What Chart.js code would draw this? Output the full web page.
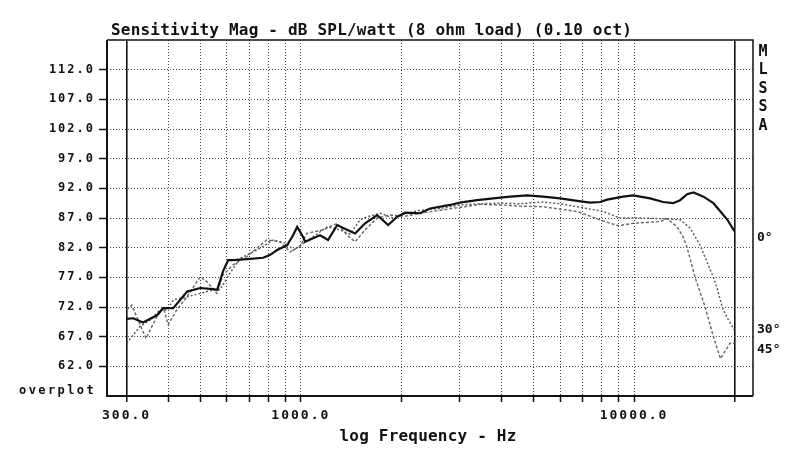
<!DOCTYPE html>
<html><head><meta charset="utf-8">
<script src="https://cdn.jsdelivr.net/npm/chart.js@4.4.1/dist/chart.umd.min.js"></script>
<style>html,body{margin:0;padding:0;background:#fff;}canvas{display:block;}</style>
</head><body>
<canvas id="c" width="800" height="454"></canvas>
<script>
// ---- data ----
const freq0 = [300,314,336,370,386,414,456,499,545,561,584,605,626,704,771,809,849,909,948,975,1016,1030,1088,1142,1207,1285,1376,1455,1559,1694,1828,1945,2056,2280,2443,2806,3000,3381,3777,4248,4777,5335,6000,6750,7383,7910,8304,9275,9937,11176,12226,13099,13750,14431,15073,16151,17306,18163,19064,20000];
const spl0 = [70.0,70.1,69.4,70.6,71.8,71.8,74.6,75.2,75.0,74.9,78.0,79.9,79.9,80.1,80.3,80.8,81.6,82.4,84.1,85.5,83.8,83.0,83.6,84.1,83.3,85.8,85.0,84.4,86.1,87.5,85.8,87.2,87.9,87.8,88.6,89.2,89.6,90.0,90.3,90.6,90.8,90.6,90.3,89.9,89.6,89.7,90.1,90.6,90.8,90.3,89.7,89.5,90.0,91.0,91.3,90.6,89.5,88.1,86.7,84.8];

const freq30 = [300,329,353,378,396,415,455,499,547,572,613,657,738,827,908,950,1018,1199,1312,1406,1506,1581,1730,1892,2084,2280,2618,3000,3452,3964,4550,5335,6000,6750,7383,8077,9084,10429,11975,13750,14737,15788,16573,17306,17757,18380,19027,20000];
const spl30 = [65.9,68.7,69.8,71.5,71.5,73.2,73.7,74.3,74.9,74.9,77.7,80.2,81.6,83.3,82.7,81.6,82.7,85.5,85.0,84.3,86.7,87.2,87.8,87.0,87.8,88.3,88.6,89.2,89.4,89.5,89.4,89.7,89.4,88.9,88.5,88.1,87.0,87.0,86.9,86.7,85.3,82.4,79.5,77.0,75.2,72.0,70.2,68.1];

const freq45 = [300,311,343,370,387,400,424,455,499,522,560,584,626,689,790,866,928,995,1042,1166,1285,1376,1455,1559,1694,1853,2056,2280,2618,3000,3452,3964,4550,5335,6000,6750,7383,8077,8961,9937,11975,12566,13466,14038,14431,15248,16344,17306,18163,18892,19421,20000];
const spl45 = [71.5,72.3,66.7,70.4,71.8,69.0,71.5,73.7,77.1,76.3,74.3,77.4,79.1,80.5,83.3,83.0,81.3,82.2,84.4,85.0,86.1,84.1,83.0,85.0,87.0,87.5,87.3,87.8,88.3,88.8,89.3,89.2,89.0,88.9,88.5,88.1,87.3,86.5,85.7,86.1,86.4,86.9,85.5,83.8,82.0,77.0,72.0,67.0,63.3,64.8,65.9,65.9];

const xGridHz = [300,400,500,600,700,800,900,1000,2000,3000,4000,5000,6000,7000,8000,9000,10000,20000];
const xLabeledHz = [300,1000,10000];
const xSolidHz = [300,20000];
const yTicks = [57,62,67,72,77,82,87,92,97,102,107,112,117];
const yLabeled = [62,67,72,77,82,87,92,97,102,107,112];

const titleText = 'Sensitivity Mag - dB SPL/watt (8 ohm load) (0.10 oct)';
const xTitleText = 'log Frequency - Hz';
const overplotText = 'overplot';
const sideLetters = ['M','L','S','S','A'];
const seriesLabels = ['0°','30°','45°'];

const toPts = (f, s) => f.map((v, i) => ({x: v, y: s[i]}));

const decor = {
  id: 'decor',
  beforeDraw(chart) { chart.ctx.letterSpacing = '2px'; },
  afterDraw(chart) {
    const {ctx, chartArea: a} = chart;
    ctx.save();
    ctx.strokeStyle = '#111';
    ctx.lineWidth = 2;
    ctx.beginPath();
    ctx.moveTo(a.left, a.top); ctx.lineTo(a.left, a.bottom); ctx.lineTo(a.right, a.bottom);
    ctx.stroke();
    ctx.lineWidth = 1.5;
    ctx.beginPath();
    ctx.moveTo(a.left, a.top); ctx.lineTo(a.right, a.top); ctx.lineTo(a.right, a.bottom);
    ctx.stroke();

    ctx.fillStyle = '#111';
    ctx.letterSpacing = '0.2px';
    ctx.font = 'bold 16px "DejaVu Sans Mono"';
    ctx.textBaseline = 'alphabetic';
    ctx.textAlign = 'left';
    ctx.fillText(titleText, 111, 35);
    ctx.textAlign = 'center';
    ctx.fillText(xTitleText, 428, 441);

    ctx.letterSpacing = '2.4px';
    ctx.font = 'bold 12px "DejaVu Sans Mono"';
    ctx.textAlign = 'right';
    ctx.textBaseline = 'middle';
    ctx.fillText(overplotText, 96, 391);

    ctx.letterSpacing = '0px';
    ctx.font = 'bold 15px "DejaVu Sans Mono"';
    ctx.textAlign = 'center';
    sideLetters.forEach((s, i) => ctx.fillText(s, 763, 52 + i * 18.5));

    ctx.font = 'bold 13px "DejaVu Sans Mono"';
    ctx.textAlign = 'left';
    const ly = [238, 330, 350];
    seriesLabels.forEach((s, i) => ctx.fillText(s, 757, ly[i]));
    ctx.restore();
  }
};

const isSolidX = c => c.tick && xSolidHz.includes(c.tick.value);
const isEdgeY = c => c.tick && (c.tick.value === 57 || c.tick.value === 117);

new Chart(document.getElementById('c'), {
  type: 'line',
  data: {
    datasets: [
      {label: seriesLabels[0], data: toPts(freq0, spl0), borderColor: '#111', borderWidth: 2.2, pointRadius: 0, tension: 0},
      {label: seriesLabels[1], data: toPts(freq30, spl30), borderColor: '#555', borderWidth: 1.4, borderDash: [2, 2], pointRadius: 0, tension: 0},
      {label: seriesLabels[2], data: toPts(freq45, spl45), borderColor: '#666', borderWidth: 1.4, borderDash: [3, 2], pointRadius: 0, tension: 0}
    ]
  },
  options: {
    responsive: false,
    animation: false,
    devicePixelRatio: 1,
    layout: {padding: {top: 40, right: 47, left: 0, bottom: 0}},
    plugins: {legend: {display: false}, tooltip: {enabled: false}, title: {display: false}},
    scales: {
      x: {
        type: 'logarithmic',
        min: 262, max: 22750,
        afterBuildTicks: s => { s.ticks = xGridHz.map(v => ({value: v})); },
        afterFit: s => { s.height = 58; },
        ticks: {
          autoSkip: false, maxRotation: 0, minRotation: 0, padding: 6, color: '#111',
          font: {family: 'DejaVu Sans Mono', size: 13, weight: 'bold'},
          callback: v => xLabeledHz.includes(v) ? v.toFixed(1) : ''
        },
        grid: {
          color: c => isSolidX(c) ? '#111' : '#444',
          lineWidth: c => isSolidX(c) ? 1.6 : 1,
          tickLength: 6, tickColor: '#111', tickWidth: 1.5, tickBorderDash: []
        },
        border: {display: false, dash: c => isSolidX(c) ? [] : [1, 2]}
      },
      y: {
        min: 57, max: 117,
        afterBuildTicks: s => { s.ticks = yTicks.map(v => ({value: v})); },
        afterFit: s => { s.width = 107; },
        ticks: {
          padding: 4, color: '#111',
          font: {family: 'DejaVu Sans Mono', size: 12, weight: 'bold'},
          callback: v => yLabeled.includes(v) ? v.toFixed(1) : ''
        },
        grid: {
          color: c => isEdgeY(c) ? 'rgba(0,0,0,0)' : '#444',
          tickColor: c => isEdgeY(c) ? 'rgba(0,0,0,0)' : '#111',
          tickLength: 8, tickWidth: 1.5, tickBorderDash: []
        },
        border: {display: false, dash: [1, 2]}
      }
    }
  },
  plugins: [decor]
});
</script>
</body></html>
